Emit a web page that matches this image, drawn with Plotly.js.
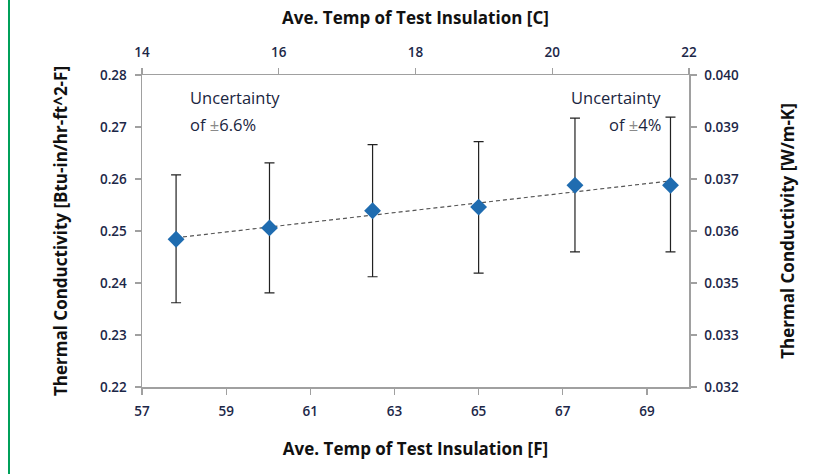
<!DOCTYPE html>
<html>
<head>
<meta charset="utf-8">
<script src="https://cdn.plot.ly/plotly-3.0.1.min.js"></script>
<style>
  html, body { margin: 0; padding: 0; background: #fff; }
  #wrap { position: relative; width: 827px; height: 474px; }
  #bar { position: absolute; left: 8px; top: 0; width: 2px; height: 474px; background: #00A05A; }
  #chart { position: absolute; left: 0; top: 0; width: 827px; height: 474px; }
</style>
</head>
<body>
<div id="wrap"><div id="bar"></div><div id="chart"></div></div>
<script>
// Data
const tempF = [57.81, 60.03, 62.48, 65.0, 67.29, 69.56];
const kValue = [0.2484, 0.2506, 0.2539, 0.2546, 0.2588, 0.2588];
const errUpper = [0.2608, 0.2631, 0.2666, 0.2672, 0.2717, 0.2719];
const errLower = [0.2362, 0.2381, 0.2412, 0.2419, 0.2460, 0.2460];

const leftTickVals = [0.22, 0.23, 0.24, 0.25, 0.26, 0.27, 0.28];
const rightTickVals = [0.032, 0.0333333, 0.0346667, 0.036, 0.0373333, 0.0386667, 0.040];
const rightTickText = ['0.032', '0.033', '0.035', '0.036', '0.037', '0.039', '0.040'];
const bottomTickVals = [57, 59, 61, 63, 65, 67, 69];
const topTickVals = [14, 16, 18, 20, 22];

const plusArr = kValue.map((v, i) => errUpper[i] - v);
const minusArr = kValue.map((v, i) => v - errLower[i]);

// Linear trendline (least squares) from the data
const n = tempF.length;
const mx = tempF.reduce((a, b) => a + b, 0) / n;
const my = kValue.reduce((a, b) => a + b, 0) / n;
let sxy = 0, sxx = 0;
for (let i = 0; i < n; i++) { sxy += (tempF[i] - mx) * (kValue[i] - my); sxx += (tempF[i] - mx) ** 2; }
const slope = sxy / sxx;
const icpt = my - slope * mx;
const trendX = [tempF[0], tempF[n - 1]];
const trendY = trendX.map(x => icpt + slope * x);

const FONT = 'Open Sans, sans-serif';
const tickFont = { family: FONT, size: 13.5, color: '#1c2748', weight: 600 };
const titleFont = { family: FONT, size: 17, color: '#111', weight: 'bold' };
const annFont = { family: FONT, size: 16.5, color: '#1a2540' };
const axisCommon = {
  showgrid: false, zeroline: false, showline: true, linecolor: '#a0a0a0', linewidth: 1.5,
  ticks: 'outside', ticklen: 6, tickcolor: '#a0a0a0', tickwidth: 1.2, tickfont: tickFont,
  ticklabelstandoff: 5
};

const traces = [
  {
    x: trendX, y: trendY, mode: 'lines', type: 'scatter',
    line: { color: '#555', width: 1.2, dash: '4px,3px' }, hoverinfo: 'skip', showlegend: false
  },
  {
    x: tempF, y: kValue, mode: 'markers', type: 'scatter',
    marker: { symbol: 'diamond', size: 13, color: '#1F6CB0' },
    error_y: { type: 'data', symmetric: false, array: plusArr, arrayminus: minusArr,
               color: '#222', thickness: 1.2, width: 5 },
    showlegend: false
  },
  {
    x: [14, 22], y: [0.032, 0.040], xaxis: 'x2', yaxis: 'y2', mode: 'markers', type: 'scatter',
    marker: { opacity: 0 }, hoverinfo: 'skip', showlegend: false
  }
];

const pm = '<span style="color:#8a8a8a">±</span>';
const layout = {
  width: 827, height: 474,
  margin: { l: 142, r: 138, t: 75, b: 87 },
  paper_bgcolor: 'rgba(0,0,0,0)', plot_bgcolor: '#fff',
  showlegend: false,
  xaxis: Object.assign({}, axisCommon, {
    range: [57, 70], tickvals: bottomTickVals,
    title: { text: 'Ave. Temp of Test Insulation [F]', font: titleFont, standoff: 24 }
  }),
  xaxis2: Object.assign({}, axisCommon, {
    range: [14, 22], tickvals: topTickVals, overlaying: 'x', side: 'top', anchor: 'y',
    title: { text: 'Ave. Temp of Test Insulation [C]', font: titleFont, standoff: 14 }
  }),
  yaxis: Object.assign({}, axisCommon, {
    range: [0.22, 0.28], tickvals: leftTickVals, tickformat: '.2f',
    title: { text: 'Thermal Conductivity [Btu-in/hr-ft^2-F]', font: titleFont, standoff: 28 }
  }),
  yaxis2: Object.assign({}, axisCommon, {
    range: [0.032, 0.040], tickvals: rightTickVals, ticktext: rightTickText,
    overlaying: 'y', side: 'right', anchor: 'x',
    title: { text: 'Thermal Conductivity [W/m-K]', font: titleFont, standoff: 44 }
  }),
  annotations: [
    { xref: 'paper', yref: 'paper', x: (188 - 142) / 547, y: 1 - (97 - 75) / 312, xanchor: 'left', yanchor: 'middle',
      showarrow: false, text: 'Uncertainty', font: annFont },
    { xref: 'paper', yref: 'paper', x: (188 - 142) / 547, y: 1 - (124 - 75) / 312, xanchor: 'left', yanchor: 'middle',
      showarrow: false, text: 'of ' + pm + '6.6%', font: annFont },
    { xref: 'paper', yref: 'paper', x: (663 - 142) / 547, y: 1 - (97 - 75) / 312, xanchor: 'right', yanchor: 'middle',
      showarrow: false, text: 'Uncertainty', font: annFont },
    { xref: 'paper', yref: 'paper', x: (663 - 142) / 547, y: 1 - (124 - 75) / 312, xanchor: 'right', yanchor: 'middle',
      showarrow: false, text: 'of ' + pm + '4%', font: annFont }
  ]
};

Plotly.newPlot('chart', traces, layout, { displayModeBar: false, staticPlot: true });
</script>
</body>
</html>
